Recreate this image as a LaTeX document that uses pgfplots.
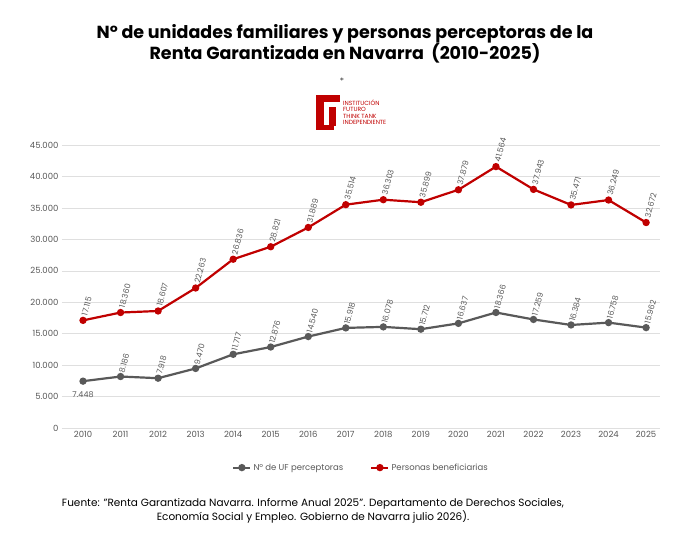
\documentclass[border=0pt]{standalone}
\usepackage{pgfplots}
\pgfplotsset{compat=1.18}
\usepackage{fontspec}
\setmainfont{Poppins}
\definecolor{rd}{HTML}{C00000}
\definecolor{gy}{HTML}{595959}
\begin{document}
\begin{tikzpicture}[x=1pt,y=1pt]
\path[use as bounding box] (-62,-111) rectangle (611,428);
\begin{axis}[at={(0,0)},anchor=south west,scale only axis,width=598pt,height=283pt,
 xmin=2009.44,xmax=2025.37,ymin=0,ymax=45000,
 xtick={2010,...,2025},ytick={0,5000,...,45000},scaled y ticks=false,
 /pgf/number format/.cd,1000 sep={.},assume math mode=true,/pgfplots/.cd,
 xticklabel={\pgfmathprintnumber[1000 sep={}]{\tick}},
 ymajorgrids,grid style={gray!25},axis line style={draw=none},
 x axis line style={draw=gray!40},
 major tick length=0pt,
 ticklabel style={font=\fontsize{8.5}{9}\selectfont,text=gy},
 nodes near coords style={font=\fontsize{8}{9}\selectfont,text=gy,rotate=75,anchor=west,inner sep=4pt},
 legend style={at={(0.5,-0.14)},anchor=center,draw=none,legend columns=2,font=\fontsize{8.5}{9}\selectfont,text=gy,/tikz/every even column/.append style={column sep=25pt}},
 clip=false]
\addplot[gy,line width=2.2pt,mark=*,mark size=2.5pt] coordinates {(2010,7448)(2011,8186)(2012,7918)(2013,9470)(2014,11717)(2015,12876)(2016,14540)(2017,15918)(2018,16078)(2019,15712)(2020,16637)(2021,18366)(2022,17259)(2023,16384)(2024,16758)(2025,15962)};
\addlegendentry{Nº de UF perceptoras}
\addplot[rd,line width=2.2pt,mark=*,mark size=2.5pt,nodes near coords] coordinates {(2010,17115)(2011,18360)(2012,18607)(2013,22263)(2014,26836)(2015,28821)(2016,31889)(2017,35514)(2018,36303)(2019,35899)(2020,37879)(2021,41564)(2022,37943)(2023,35471)(2024,36249)(2025,32672)};
\addlegendentry{Personas beneficiarias}
\addplot[draw=none,nodes near coords,forget plot] coordinates {(2011,8186)(2012,7918)(2013,9470)(2014,11717)(2015,12876)(2016,14540)(2017,15918)(2018,16078)(2019,15712)(2020,16637)(2021,18366)(2022,17259)(2023,16384)(2024,16758)(2025,15962)};
\node[font=\fontsize{8}{9}\selectfont,text=gy,anchor=north] at (axis cs:2010,6300) {7.448};
\end{axis}
\node[font=\bfseries\fontsize{17.5}{21}\selectfont,align=center,text=black] at (283,384) {Nº de unidades familiares y personas perceptoras de la\\Renta Garantizada en Navarra\ \ (2010-2025)};
% logo
\node[font=\fontsize{8}{8}\selectfont] at (280,348) {$\ast$};
\fill[rd] (254,298) rectangle (262,333);
\fill[rd] (254,326) rectangle (278,333);
\fill[rd] (267,302) rectangle (274,321);
\fill[rd] (254,298) rectangle (272,303);
\node[font=\fontsize{6}{6.5}\selectfont,align=left,anchor=west,inner sep=0,text=rd] at (281,316) {INSTITUCIÓN\\FUTURO\\THINK TANK\\INDEPENDIENTE};
\node[font=\fontsize{10.5}{14}\selectfont,align=center] at (251,-83) {Fuente: "Renta Garantizada Navarra. Informe Anual 2025". Departamento de Derechos Sociales,\\Economía Social y Empleo. Gobierno de Navarra julio 2026).};
\end{tikzpicture}
\end{document}
